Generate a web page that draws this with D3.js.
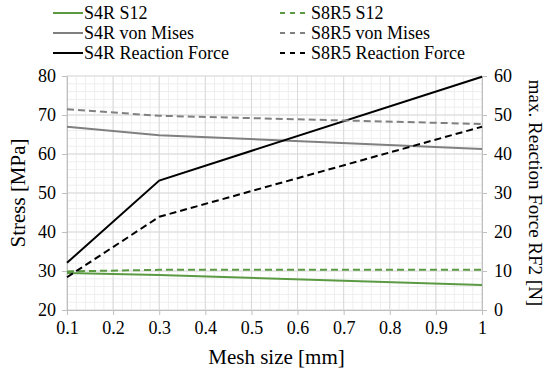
<!DOCTYPE html>
<html lang="en">
<head>
<meta charset="UTF-8">
<title>Mesh study</title>
<style>
  body { margin:0; background:#fff; }
  svg { display:block; }
</style>
</head>
<body>
<svg width="550" height="375"></svg>
<script src="https://cdnjs.cloudflare.com/ajax/libs/d3/7.8.5/d3.min.js"></script>
<script>
// data
const meshSize = [0.1, 0.3, 1];
const s4rS12 = [29.5, 29.0, 26.4];
const s8r5S12 = [29.9, 30.3, 30.3];
const s4rMises = [67.0, 64.8, 61.3];
const s8r5Mises = [71.5, 69.8, 67.7];
const s4rForce = [12.1, 33.2, 59.8];
const s8r5Force = [8.4, 23.9, 47.0];
const xTicks = [0.1, 0.2, 0.3, 0.4, 0.5, 0.6, 0.7, 0.8, 0.9, 1];
const stressTicks = [20, 30, 40, 50, 60, 70, 80];
const forceTicks = [0, 10, 20, 30, 40, 50, 60];

const series = [
  { name: "S4R S12", vals: s4rS12, axis: "left", color: "#5b9a43", dash: null },
  { name: "S4R von Mises", vals: s4rMises, axis: "left", color: "#808080", dash: null },
  { name: "S4R Reaction Force", vals: s4rForce, axis: "right", color: "#000", dash: null },
  { name: "S8R5 S12", vals: s8r5S12, axis: "left", color: "#5b9a43", dash: "7,4" },
  { name: "S8R5 von Mises", vals: s8r5Mises, axis: "left", color: "#808080", dash: "7,4" },
  { name: "S8R5 Reaction Force", vals: s8r5Force, axis: "right", color: "#000", dash: "7,4" }
];

const FONT = "Liberation Serif, DejaVu Serif";
const svg = d3.select("svg");
const pL = 67, pR = 482, pT = 76, pB = 310;

const x = d3.scaleLinear().domain([0.1, 1]).range([pL, pR]);
const yL = d3.scaleLinear().domain([20, 80]).range([pB, pT]);
const yR = d3.scaleLinear().domain([0, 60]).range([pB, pT]);

// minor grid
const g = svg.append("g");
g.selectAll(".mx").data(d3.range(0.1, 1.0001, 0.02)).join("line")
  .attr("x1", d => x(d)).attr("x2", d => x(d)).attr("y1", pT).attr("y2", pB)
  .attr("stroke", "#eeeeee").attr("stroke-width", 1);
g.selectAll(".my").data(d3.range(20, 80.001, 2)).join("line")
  .attr("y1", d => yL(d)).attr("y2", d => yL(d)).attr("x1", pL).attr("x2", pR)
  .attr("stroke", "#eeeeee").attr("stroke-width", 1);
// major grid
g.selectAll(".Mx").data(xTicks).join("line")
  .attr("x1", d => x(d)).attr("x2", d => x(d)).attr("y1", pT).attr("y2", pB)
  .attr("stroke", "#d9d9d9").attr("stroke-width", 1);
g.selectAll(".My").data(stressTicks).join("line")
  .attr("y1", d => yL(d)).attr("y2", d => yL(d)).attr("x1", pL).attr("x2", pR)
  .attr("stroke", "#d9d9d9").attr("stroke-width", 1);

// axes
const axisStyle = (sel, size) => {
  sel.attr("font-family", null).attr("font-size", null);
  sel.select(".domain").attr("stroke", "#bfbfbf");
  sel.selectAll(".tick line").attr("stroke", "#bfbfbf");
  sel.selectAll("text").attr("fill", "#000").style("font-family", FONT).style("font-size", size + "px");
};
svg.append("g").attr("transform", `translate(0,${pB})`)
  .call(d3.axisBottom(x).tickValues(xTicks).tickFormat(d3.format("")).tickSize(5).tickSizeOuter(0).tickPadding(6))
  .call(axisStyle, 18);
svg.append("g").attr("transform", `translate(${pL},0)`)
  .call(d3.axisLeft(yL).tickValues(stressTicks).tickSize(5).tickSizeOuter(0).tickPadding(6))
  .call(axisStyle, 18);
svg.append("g").attr("transform", `translate(${pR},0)`)
  .call(d3.axisRight(yR).tickValues(forceTicks).tickSize(5).tickSizeOuter(0).tickPadding(7))
  .call(axisStyle, 18);

// lines
const line = (scale) => d3.line().x((d, i) => x(meshSize[i])).y(d => scale(d));
svg.append("g").selectAll("path").data(series).join("path")
  .attr("d", s => line(s.axis === "left" ? yL : yR)(s.vals))
  .attr("fill", "none")
  .attr("stroke", s => s.color)
  .attr("stroke-width", 2)
  .attr("stroke-dasharray", s => s.dash);

// axis titles
const titles = svg.append("g").attr("fill", "#000");
titles.append("text").attr("transform", `translate(18,${(pT + pB) / 2}) rotate(-90)`)
  .attr("text-anchor", "middle").attr("dominant-baseline", "central")
  .style("font-family", FONT).style("font-size", "21px").text("Stress [MPa]");
titles.append("text").attr("transform", `translate(535,${(pT + pB) / 2}) rotate(90)`)
  .attr("text-anchor", "middle").attr("dominant-baseline", "central")
  .style("font-family", FONT).style("font-size", "19px").text("max. Reaction Force RF2 [N]");
titles.append("text").attr("x", (pL + pR) / 2 + 2).attr("y", 364)
  .attr("text-anchor", "middle").style("font-family", FONT).style("font-size", "21px").text("Mesh size [mm]");

// legend
const leg = svg.append("g").selectAll("g").data(series).join("g")
  .attr("transform", (s, i) => `translate(${i < 3 ? 53 : 280},${13 + (i % 3) * 20})`);
leg.append("line").attr("x1", 0).attr("x2", 30).attr("y1", 0).attr("y2", 0)
  .attr("stroke", s => s.color).attr("stroke-width", 2)
  .attr("stroke-dasharray", s => s.dash ? "5,5" : null);
leg.append("text").attr("x", 31).attr("y", 0).attr("dominant-baseline", "central")
  .style("font-family", FONT).style("font-size", "18px").attr("fill", "#000").text(s => s.name);
</script>
</body>
</html>
